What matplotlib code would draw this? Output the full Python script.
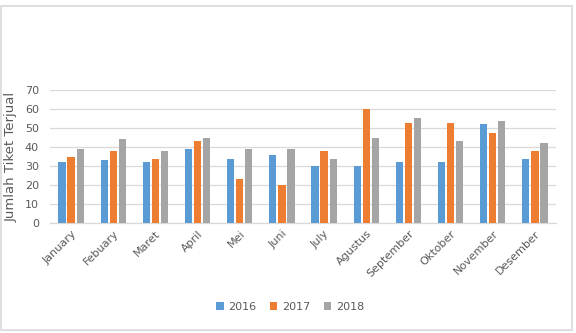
import numpy as np
import matplotlib.pyplot as plt
from matplotlib.patches import Rectangle

months = ['January', 'Febuary', 'Maret', 'April', 'Mei', 'Juni', 'July',
          'Agustus', 'September', 'Oktober', 'November', 'Desember']
sales_2016 = [32, 33, 32, 39, 33.5, 36, 30, 30, 32, 32, 52, 33.5]
sales_2017 = [35, 38, 33.5, 43, 23, 20, 38, 60, 52.5, 52.5, 47.5, 38]
sales_2018 = [39, 44, 38, 44.5, 39, 39, 33.5, 44.5, 55.5, 43, 53.5, 42]
years = ['2016', '2017', '2018']
colors = ['#5B9BD5', '#ED7D31', '#A5A5A5']

text_color = '#595959'
grid_color = '#D9D9D9'

fig = plt.figure(figsize=(5.76, 3.33), dpi=100)
ax = fig.add_axes([50/576, 1 - 223/333, 506/576, 133/333])

x = np.arange(len(months))
width = 0.17
step = 0.215
for i, (vals, lab, c) in enumerate(zip([sales_2016, sales_2017, sales_2018], years, colors)):
    ax.bar(x + (i - 1) * step, vals, width=width, color=c, label=lab, zorder=3)

ax.set_xlim(-0.5, len(months) - 0.5)
ax.set_ylim(0, 70)
ax.set_yticks(range(0, 71, 10))
ax.yaxis.grid(True, color=grid_color, linewidth=0.9, zorder=0)
for s in ['top', 'right', 'left']:
    ax.spines[s].set_visible(False)
ax.spines['bottom'].set_color(grid_color)
ax.spines['bottom'].set_linewidth(0.9)
ax.tick_params(axis='both', length=0, colors=text_color, labelsize=8)
ax.tick_params(axis='y', pad=8)
ax.set_xticks(x)
ax.set_xticklabels(months, rotation=45, ha='right', rotation_mode='anchor')
ax.tick_params(axis='x', pad=4)
ax.set_ylabel('Jumlah Tiket Terjual', color=text_color, fontsize=9.5, labelpad=5)

ax.legend(loc='center', bbox_to_anchor=(290/576, 1 - 307/333),
          bbox_transform=fig.transFigure, ncol=3, frameon=False,
          fontsize=8, labelcolor=text_color, handlelength=0.7, handleheight=0.7,
          handletextpad=0.4, columnspacing=1.2)

fig.patches.append(Rectangle((1/576, 1 - 330/333), 571/576, 324/333,
                             transform=fig.transFigure, fill=False,
                             edgecolor=grid_color, linewidth=1.2))

fig.savefig('out.png', dpi=100)
